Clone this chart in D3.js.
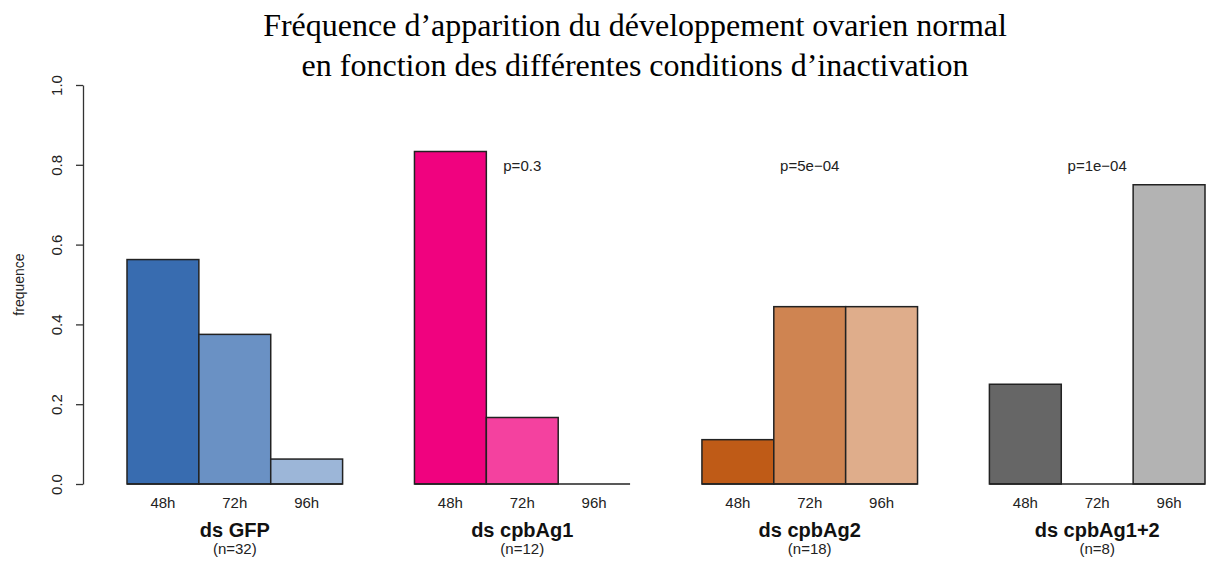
<!DOCTYPE html>
<html>
<head>
<meta charset="utf-8">
<script src="https://cdn.jsdelivr.net/npm/d3@7"></script>
<style>
  html, body { margin: 0; padding: 0; background: #fff; }
  svg { display: block; }
</style>
</head>
<body>
<svg id="chart" width="1209" height="562"></svg>
<script>
// Conditions (dsRNA) and developmental time points
const groups = ["ds GFP", "ds cpbAg1", "ds cpbAg2", "ds cpbAg1+2"];
const groupN = ["(n=32)", "(n=12)", "(n=18)", "(n=8)"];
const times = ["48h", "72h", "96h"];

// Frequency of normal ovarian development per condition and time point
const freqGFP = [18 / 32, 12 / 32, 2 / 32];
const freqAg1 = [10 / 12, 2 / 12, 0];
const freqAg2 = [2 / 18, 8 / 18, 8 / 18];
const freqAg12 = [2 / 8, 0, 6 / 8];

// p-values printed above each knockdown condition
const pValues = [null, "p=0.3", "p=5e\u221204", "p=1e\u221204"];

// Base colour per condition; later time points are lighter
const baseColors = ["#386CB0", "#F0027F", "#BF5B17", "#666666"];
const timeAlpha = [1, 0.75, 0.5];

const yTicks = [0, 0.2, 0.4, 0.6, 0.8, 1.0];

const seriesValues = [freqGFP, freqAg1, freqAg2, freqAg12];

const sans = "'Liberation Sans', Arial, Helvetica, sans-serif";
const svg = d3.select("#chart");

const y = d3.scaleLinear().domain([0, 1]).range([484, 85]);

const xGroup = d3.scaleBand()
  .domain(groups)
  .range([127, 1205])
  .paddingInner(0.25)
  .paddingOuter(0);

const xTime = d3.scaleBand()
  .domain(times)
  .range([0, xGroup.bandwidth()])
  .padding(0);

function blend(hex, a) {
  const c = d3.rgb(hex);
  return d3.rgb(
    c.r * a + 255 * (1 - a),
    c.g * a + 255 * (1 - a),
    c.b * a + 255 * (1 - a)
  ).formatHex();
}

// Title
const title = svg.append("text")
  .attr("text-anchor", "middle")
  .style("font-family", "'Liberation Serif', 'Times New Roman', serif")
  .style("font-size", "32px")
  .attr("fill", "#000");
title.append("tspan").attr("x", 635).attr("y", 36)
  .text("Fréquence d’apparition du développement ovarien normal");
title.append("tspan").attr("x", 635).attr("y", 76)
  .text("en fonction des différentes conditions d’inactivation");

// Y axis
const yAxis = d3.axisLeft(y)
  .tickValues(yTicks)
  .tickFormat(d3.format(".1f"))
  .tickSizeOuter(0)
  .tickSizeInner(7);

const yg = svg.append("g")
  .attr("transform", "translate(83,0)")
  .call(yAxis);
yg.select(".domain").attr("stroke", "#333").attr("stroke-width", 1.3);
yg.selectAll(".tick line").attr("stroke", "#333").attr("stroke-width", 1.3);
yg.selectAll(".tick text")
  .attr("transform", "rotate(-90)")
  .attr("x", 0)
  .attr("y", -21.5)
  .attr("dy", null)
  .attr("text-anchor", "middle")
  .style("font-family", sans)
  .style("font-size", "15px")
  .attr("fill", "#222");

svg.append("text")
  .attr("transform", `translate(24,${y(0.5)}) rotate(-90)`)
  .attr("text-anchor", "middle")
  .style("font-family", sans)
  .style("font-size", "14px")
  .attr("fill", "#222")
  .text("frequence");

// Bars
groups.forEach((g, gi) => {
  const gx = xGroup(g);
  const grp = svg.append("g").attr("transform", `translate(${gx},0)`);

  grp.selectAll("rect")
    .data(times.map((t, ti) => ({ t, ti, v: seriesValues[gi][ti] })))
    .join("rect")
    .attr("x", d => xTime(d.t))
    .attr("y", d => y(d.v))
    .attr("width", xTime.bandwidth())
    .attr("height", d => y(0) - y(d.v))
    .attr("fill", d => blend(baseColors[gi], timeAlpha[d.ti]))
    .attr("stroke", "#222")
    .attr("stroke-width", 1.5);

  // baseline under the group (also shows zero-height bars)
  grp.append("line")
    .attr("x1", 0)
    .attr("x2", xGroup.bandwidth())
    .attr("y1", y(0))
    .attr("y2", y(0))
    .attr("stroke", "#222")
    .attr("stroke-width", 1.5);

  // time labels
  grp.selectAll("text.time")
    .data(times)
    .join("text")
    .attr("class", "time")
    .attr("x", t => xTime(t) + xTime.bandwidth() / 2)
    .attr("y", 508)
    .attr("text-anchor", "middle")
    .style("font-family", sans)
    .style("font-size", "15px")
    .attr("fill", "#222")
    .text(t => t);

  // condition label
  grp.append("text")
    .attr("x", xGroup.bandwidth() / 2)
    .attr("y", 536.5)
    .attr("text-anchor", "middle")
    .style("font-family", sans)
    .style("font-size", "20px")
    .style("font-weight", "bold")
    .attr("fill", "#111")
    .text(g);

  grp.append("text")
    .attr("x", xGroup.bandwidth() / 2)
    .attr("y", 554)
    .attr("text-anchor", "middle")
    .style("font-family", sans)
    .style("font-size", "15px")
    .attr("fill", "#222")
    .text(groupN[gi]);

  if (pValues[gi]) {
    grp.append("text")
      .attr("x", xTime("72h") + xTime.bandwidth() / 2)
      .attr("y", 171)
      .attr("text-anchor", "middle")
      .style("font-family", sans)
      .style("font-size", "15px")
      .attr("fill", "#222")
      .text(pValues[gi]);
  }
});
</script>
</body>
</html>
